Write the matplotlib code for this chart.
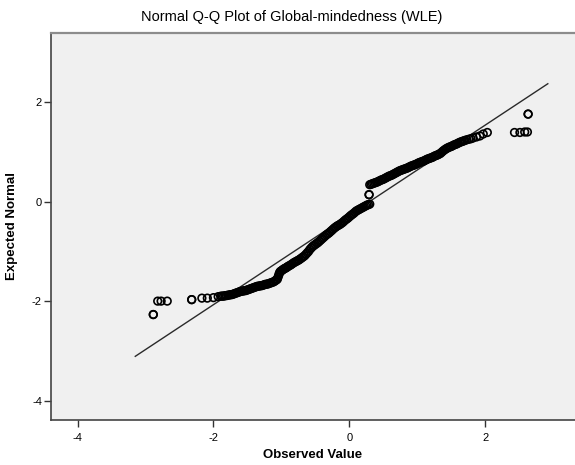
import matplotlib
matplotlib.use("Agg")
import matplotlib.pyplot as plt

plt.rcParams['font.family'] = ['Liberation Sans', 'DejaVu Sans']
plt.rcParams['axes.unicode_minus'] = False

# observed value (x) vs expected normal score (y), sorted by observed value
obs_low = [-2.885, -2.885, -2.82, -2.77, -2.68, -2.32, -2.32, -2.17, -2.09, -2.00, -1.93]
exp_low = [-2.27, -2.27, -2.00, -2.00, -2.00, -1.97, -1.97, -1.94, -1.94, -1.93, -1.91]

obs_mid = [-1.89, -1.87, -1.85, -1.83, -1.81, -1.79, -1.77, -1.75, -1.73, -1.71,
           -1.69, -1.67, -1.65, -1.63, -1.61, -1.59, -1.57, -1.55, -1.53, -1.51,
           -1.49, -1.47, -1.45, -1.43, -1.41, -1.39, -1.37, -1.35, -1.33, -1.31,
           -1.29, -1.27, -1.25, -1.23, -1.21, -1.19, -1.17, -1.15, -1.13, -1.11,
           -1.09, -1.075, -1.06, -1.05, -1.04, -1.03, -1.02, -1.005, -0.99, -0.975,
           -0.96, -0.945, -0.93, -0.915, -0.90, -0.88, -0.86, -0.84, -0.82, -0.80,
           -0.78, -0.76, -0.74, -0.72, -0.70, -0.68, -0.66, -0.64, -0.62, -0.60,
           -0.58, -0.56, -0.54, -0.52, -0.50, -0.48, -0.46, -0.44, -0.42, -0.40,
           -0.38, -0.36, -0.34, -0.32, -0.30, -0.28, -0.26, -0.24, -0.22, -0.20,
           -0.18, -0.16, -0.14, -0.12, -0.10, -0.08, -0.06, -0.04, -0.02, 0.00,
           0.02, 0.04, 0.06, 0.08, 0.10, 0.12, 0.14, 0.16, 0.18, 0.20,
           0.22, 0.24, 0.26, 0.28, 0.30, 0.29, 0.29]
exp_mid = [-1.90, -1.90, -1.90, -1.89, -1.89, -1.88, -1.88, -1.87, -1.87, -1.86,
           -1.85, -1.84, -1.83, -1.82, -1.81, -1.80, -1.80, -1.79, -1.79, -1.78,
           -1.77, -1.76, -1.75, -1.74, -1.73, -1.72, -1.71, -1.70, -1.70, -1.69,
           -1.69, -1.68, -1.67, -1.66, -1.66, -1.65, -1.64, -1.63, -1.62, -1.61,
           -1.59, -1.575, -1.56, -1.52, -1.48, -1.44, -1.41, -1.395, -1.38, -1.365,
           -1.35, -1.34, -1.33, -1.315, -1.30, -1.285, -1.27, -1.25, -1.23, -1.215,
           -1.20, -1.185, -1.17, -1.15, -1.13, -1.11, -1.09, -1.06, -1.03, -1.00,
           -0.96, -0.93, -0.90, -0.88, -0.86, -0.84, -0.82, -0.795, -0.77, -0.745,
           -0.72, -0.695, -0.67, -0.65, -0.63, -0.605, -0.58, -0.555, -0.53, -0.51,
           -0.49, -0.475, -0.46, -0.44, -0.42, -0.395, -0.37, -0.35, -0.33, -0.305,
           -0.28, -0.26, -0.24, -0.215, -0.19, -0.175, -0.16, -0.145, -0.13, -0.115,
           -0.10, -0.085, -0.07, -0.06, -0.05, 0.14, 0.14]

obs_high = [0.30, 0.32, 0.34, 0.36, 0.38, 0.40, 0.42, 0.44, 0.46, 0.48,
            0.50, 0.52, 0.54, 0.56, 0.58, 0.60, 0.62, 0.64, 0.66, 0.68,
            0.70, 0.72, 0.74, 0.76, 0.78, 0.80, 0.82, 0.84, 0.86, 0.88,
            0.90, 0.92, 0.94, 0.96, 0.98, 1.00, 1.02, 1.04, 1.06, 1.08,
            1.10, 1.12, 1.14, 1.16, 1.18, 1.20, 1.22, 1.24, 1.26, 1.28,
            1.30, 1.32, 1.34, 1.36, 1.38, 1.40, 1.42, 1.44, 1.46, 1.48,
            1.50, 1.52, 1.54, 1.56, 1.58, 1.60, 1.62, 1.64, 1.66, 1.68,
            1.70, 1.73, 1.76, 1.79, 1.82, 1.87, 1.92, 1.97, 2.03,
            2.43, 2.51, 2.58, 2.62, 2.63, 2.63]
exp_high = [0.34, 0.35, 0.36, 0.37, 0.38, 0.39, 0.40, 0.415, 0.43, 0.44,
            0.45, 0.465, 0.48, 0.495, 0.51, 0.52, 0.53, 0.545, 0.56, 0.575,
            0.59, 0.605, 0.62, 0.63, 0.64, 0.65, 0.66, 0.67, 0.68, 0.695,
            0.71, 0.72, 0.73, 0.74, 0.75, 0.765, 0.78, 0.79, 0.80, 0.81,
            0.82, 0.835, 0.85, 0.86, 0.87, 0.88, 0.89, 0.905, 0.92, 0.93,
            0.94, 0.955, 0.97, 0.995, 1.02, 1.04, 1.06, 1.075, 1.09, 1.10,
            1.11, 1.125, 1.14, 1.15, 1.16, 1.175, 1.19, 1.20, 1.21, 1.22,
            1.23, 1.245, 1.255, 1.265, 1.28, 1.30, 1.32, 1.36, 1.39,
            1.39, 1.39, 1.40, 1.40, 1.76, 1.76]

# fitted normal line: expected = (observed - mean) / sd
line_x = [-3.15, 2.92]
line_y = [-3.11, 2.37]

x_ticks = [-4, -2, 0, 2]
y_ticks = [-4, -2, 0, 2]

fig = plt.figure(figsize=(5.75, 4.65), dpi=100)
ax = fig.add_axes([51 / 575, 45 / 465, 524 / 575, 387 / 465])
ax.set_facecolor('#f0f0f0')

ax.plot(line_x, line_y, color='#2a2a2a', lw=1.0, zorder=2)

obs = obs_low + obs_mid + obs_high
exp = exp_low + exp_mid + exp_high
ax.scatter(obs, exp, s=30, facecolors='none', edgecolors='black',
           linewidths=1.2, zorder=3)

ax.set_xlim(-4.39, 3.32)
ax.set_ylim(-4.39, 3.39)
ax.set_xticks(x_ticks)
ax.set_yticks(y_ticks)
ax.tick_params(direction='out', length=5, width=1, color='#333333',
               labelsize=8)
ax.tick_params(axis='x', pad=4)
ax.tick_params(axis='y', pad=1.5)

for side in ['left', 'bottom']:
    ax.spines[side].set_color('#444444')
    ax.spines[side].set_linewidth(1.2)
ax.spines['top'].set_color('#8c8c8c')
ax.spines['top'].set_linewidth(1.6)
ax.spines['right'].set_visible(False)

ax.set_xlabel('Observed Value', fontsize=9.5, fontweight='bold')
ax.xaxis.set_label_coords(0.5, -0.076)
ax.set_ylabel('Expected Normal', fontsize=9.5, fontweight='bold')
ax.yaxis.set_label_coords(-0.063, 0.5)
fig.text(292 / 575, 1 - 17 / 465, 'Normal Q-Q Plot of Global-mindedness (WLE)',
         ha='center', va='center', fontsize=10.5)

fig.savefig('out.png', dpi=100)
